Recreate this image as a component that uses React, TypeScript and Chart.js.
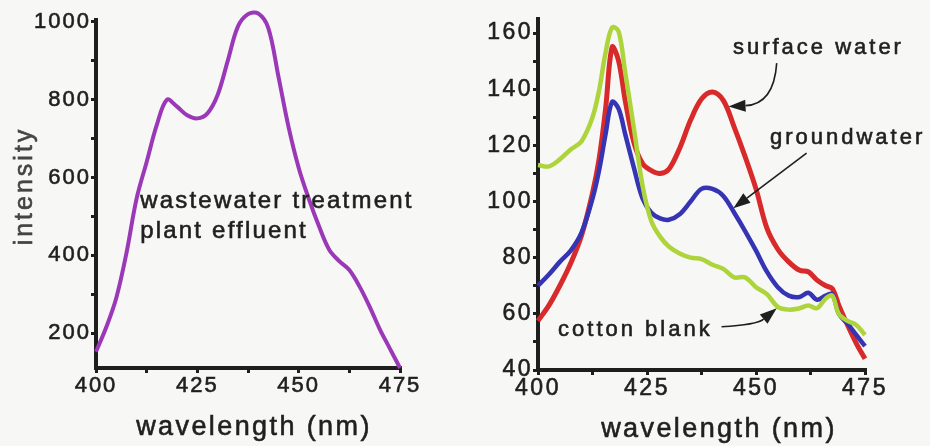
import { useEffect, useRef } from "react";
import { Chart, registerables } from "chart.js";

Chart.register(...registerables);

const FONT = "'Liberation Sans', Arial, Helvetica, sans-serif";
const INK = "#1f1f1f";
const AXIS = "#1e1e1e";
const TEXT_STROKE = 0.6;

// Left panel: wastewater treatment plant effluent
const effluentNm = [
  400, 402.5, 405, 407.5, 410, 412.5, 415, 417.5, 420, 422.5, 425, 427.5, 430, 432.5, 435, 437.5,
  440, 442.5, 445, 447.5, 450, 452.5, 455, 457.5, 460, 462.5, 465, 467.5, 470, 472.5, 475,
];
const effluentIntensity = [
  152, 214, 290, 405, 545, 640, 735, 800, 782, 760, 752, 765, 812, 900, 988, 1020,
  1022, 985, 860, 730, 625, 545, 475, 415, 385, 362, 320, 268, 210, 160, 110,
];

// Right panel: shared wavelength grid for the three spectra
const spectraNm = [
  400, 402.5, 405, 407.5, 410, 412.5, 414, 415.5, 417, 418.5, 420, 422, 424, 426, 428, 430, 432.5,
  435, 437.5, 440, 442.5, 445, 447.5, 450, 452.5, 455, 457.5, 460, 462, 464, 466, 467.5, 469, 471,
  473, 475,
];
const surfaceWater = [
  57.5, 63, 70, 78, 88, 103, 115, 133, 155, 150, 136, 121, 113.5, 111, 110, 111.5, 119,
  129, 136.5, 139, 136, 126.5, 116, 104.5, 90.5, 83, 78.5, 75.5, 75, 72, 70, 69, 63, 56,
  49.5, 44,
];
const groundwater = [
  70, 74, 78.5, 82.5, 89, 101, 111, 124, 135.5, 133, 124, 112, 101, 96, 94, 93.5, 95.5,
  100, 104.5, 104.5, 102, 96, 89.5, 82.5, 75, 69.5, 66.5, 66, 67.5, 65, 66.5, 67, 60, 56.5,
  52.5, 48.5,
];
const cottonBlank = [
  113, 112.5, 115, 118.5, 121.5, 130, 139.5, 153, 162, 160.5, 146, 126, 105.5, 93, 87.5, 84, 81.5,
  80, 79.5, 77.5, 76, 73, 73, 69.5, 67, 62.5, 61.5, 62, 63, 62, 65.5, 66.5, 60, 57.5,
  56, 52.5,
];

// Tick positions (every mark) and the subset that carries a label
const wavelengthTicks = [400, 412.5, 425, 437.5, 450, 462.5, 475];
const wavelengthLabels = [400, 425, 450, 475];
const effluentTicks = [200, 300, 400, 500, 600, 700, 800, 900, 1000];
const effluentLabels = [200, 400, 600, 800, 1000];
const spectraTicks = [40, 50, 60, 70, 80, 90, 100, 110, 120, 130, 140, 150, 160];
const spectraLabels = [40, 60, 80, 100, 120, 140, 160];

type Pt = [number, number];
type Note = { text: string; at: Pt; size: number; spacing: number };
type Arrow = { from: Pt; via?: Pt; to: Pt };
type Caption = {
  text: string;
  x: number;
  y: number;
  size: number;
  spacing: number;
  vertical?: boolean;
  color?: string;
};

function notesPlugin(notes: Note[], arrows: Arrow[], captions: Caption[], tickSpacing: string) {
  return {
    id: "notes",
    beforeDraw(chart: any) {
      chart.ctx.letterSpacing = tickSpacing;
    },
    afterDatasetsDraw(chart: any) {
      const { ctx } = chart;
      const xs = chart.scales.x;
      const ys = chart.scales.y;
      const P = (p: Pt): Pt => [xs.getPixelForValue(p[0]), ys.getPixelForValue(p[1])];
      const write = (text: string, x: number, y: number) => {
        ctx.lineWidth = TEXT_STROKE;
        ctx.strokeText(text, x, y);
        ctx.fillText(text, x, y);
      };
      ctx.save();
      ctx.fillStyle = INK;
      ctx.strokeStyle = INK;
      ctx.textBaseline = "middle";
      ctx.textAlign = "left";
      for (const n of notes) {
        ctx.font = `${n.size}px ${FONT}`;
        ctx.letterSpacing = `${n.spacing}px`;
        const [x, y] = P(n.at);
        write(n.text, x, y);
      }
      for (const a of arrows) {
        const [x0, y0] = P(a.from);
        const [x1, y1] = P(a.to);
        const [cx, cy] = a.via ? P(a.via) : [(x0 + x1) / 2, (y0 + y1) / 2];
        const ang = Math.atan2(y1 - cy, x1 - cx);
        const head = 17;
        const half = 6;
        const bx = x1 - head * Math.cos(ang);
        const by = y1 - head * Math.sin(ang);
        ctx.lineWidth = 1.6;
        ctx.beginPath();
        ctx.moveTo(x0, y0);
        ctx.quadraticCurveTo(cx, cy, bx, by);
        ctx.stroke();
        ctx.beginPath();
        ctx.moveTo(x1, y1);
        ctx.lineTo(bx + half * Math.sin(ang), by - half * Math.cos(ang));
        ctx.lineTo(bx - half * Math.sin(ang), by + half * Math.cos(ang));
        ctx.closePath();
        ctx.fill();
      }
      ctx.textAlign = "center";
      for (const c of captions) {
        ctx.font = `${c.size}px ${FONT}`;
        ctx.letterSpacing = `${c.spacing}px`;
        ctx.fillStyle = c.color ?? INK;
        ctx.strokeStyle = c.color ?? INK;
        ctx.save();
        ctx.translate(c.x, c.y);
        if (c.vertical) ctx.rotate(-Math.PI / 2);
        write(c.text, 0, 0);
        ctx.restore();
      }
      ctx.restore();
    },
  };
}

function axisStyle(size: number, marks: number[], labels: number[], min: number, max: number, extra: any) {
  return {
    type: "linear",
    min,
    max,
    afterBuildTicks: (s: any) => {
      s.ticks = marks.map((value) => ({ value }));
    },
    ticks: {
      autoSkip: false,
      maxRotation: 0,
      padding: 0,
      color: INK,
      textStrokeColor: INK,
      textStrokeWidth: TEXT_STROKE,
      font: { family: FONT, size },
      callback: (v: number) => (labels.includes(v) ? String(v) : ""),
    },
    grid: {
      display: true,
      drawOnChartArea: false,
      drawTicks: true,
      tickLength: 5,
      lineWidth: 3,
      color: AXIS,
    },
    border: { display: true, width: 4, color: AXIS },
    ...extra,
  };
}

function line(nm: number[], values: number[], color: string, width: number) {
  return {
    data: nm.map((x, i) => ({ x, y: values[i] })),
    borderColor: color,
    borderWidth: width,
    pointRadius: 0,
    tension: 0.35,
    fill: false,
    clip: false as any,
  };
}

function EffluentPanel() {
  const ref = useRef<HTMLCanvasElement>(null);
  useEffect(() => {
    const chart = new Chart(ref.current!, {
      type: "line",
      data: { datasets: [line(effluentNm, effluentIntensity, "#9a38b8", 4) as any] },
      options: {
        animation: false,
        responsive: true,
        maintainAspectRatio: false,
        events: [],
        layout: { padding: { left: 0, right: 65, top: 20, bottom: 0 } },
        plugins: { legend: { display: false }, tooltip: { enabled: false } },
        scales: {
          x: axisStyle(22, wavelengthTicks, wavelengthLabels, 400, 475, {
            afterFit: (s: any) => {
              s.height = 78;
            },
          }) as any,
          y: axisStyle(22, effluentTicks, effluentLabels, 110, 1005, {
            afterFit: (s: any) => {
              s.width = 96;
            },
          }) as any,
        },
      },
      plugins: [
        notesPlugin(
          [
            { text: "wastewater treatment", at: [410.9, 539], size: 24, spacing: 2.2 },
            { text: "plant effluent", at: [410.9, 462], size: 24, spacing: 2.2 },
          ],
          [],
          [
            { text: "intensity", x: 25, y: 186, size: 25, spacing: 3, vertical: true, color: "#444444" },
            { text: "wavelength (nm)", x: 254, y: 428, size: 27, spacing: 2.4 },
          ],
          "2px"
        ) as any,
      ],
    });
    return () => chart.destroy();
  }, []);
  return (
    <div style={{ position: "absolute", left: 0, top: 0, width: 465, height: 446 }}>
      <canvas ref={ref} />
    </div>
  );
}

function SpectraPanel() {
  const ref = useRef<HTMLCanvasElement>(null);
  useEffect(() => {
    const chart = new Chart(ref.current!, {
      type: "line",
      data: {
        datasets: [
          line(spectraNm, cottonBlank, "#aed43c", 4.5) as any,
          line(spectraNm, groundwater, "#3434b4", 4.5) as any,
          line(spectraNm, surfaceWater, "#d82a2a", 5) as any,
        ],
      },
      options: {
        animation: false,
        responsive: true,
        maintainAspectRatio: false,
        events: [],
        layout: { padding: { left: 0, right: 65, top: 19, bottom: 0 } },
        plugins: { legend: { display: false }, tooltip: { enabled: false } },
        scales: {
          x: axisStyle(23, wavelengthTicks, wavelengthLabels, 400, 475, {
            afterFit: (s: any) => {
              s.height = 76;
            },
          }) as any,
          y: axisStyle(23, spectraTicks, spectraLabels, 40, 165, {
            afterFit: (s: any) => {
              s.width = 73;
            },
          }) as any,
        },
      },
      plugins: [
        notesPlugin(
          [
            { text: "surface water", at: [444.7, 154.7], size: 22, spacing: 3 },
            { text: "groundwater", at: [453.2, 122.6], size: 22, spacing: 3 },
            { text: "cotton blank", at: [404.6, 54.3], size: 22, spacing: 3 },
          ],
          [
            { from: [454.75, 149.3], via: [454.1, 134.7], to: [443.7, 133.8] },
            { from: [461.6, 117.2], to: [444.8, 97.6] },
            { from: [442.1, 55.4], via: [450.2, 56.1], to: [454.75, 62.0] },
          ],
          [{ text: "wavelength (nm)", x: 254, y: 430, size: 27, spacing: 2.4 }],
          "2.5px"
        ) as any,
      ],
    });
    return () => chart.destroy();
  }, []);
  return (
    <div style={{ position: "absolute", left: 465, top: 0, width: 465, height: 446 }}>
      <canvas ref={ref} />
    </div>
  );
}

export default function App() {
  return (
    <div
      style={{
        position: "fixed",
        left: 0,
        top: 0,
        width: 930,
        height: 446,
        background: "#f7f7f5",
        overflow: "hidden",
      }}
    >
      <EffluentPanel />
      <SpectraPanel />
    </div>
  );
}
